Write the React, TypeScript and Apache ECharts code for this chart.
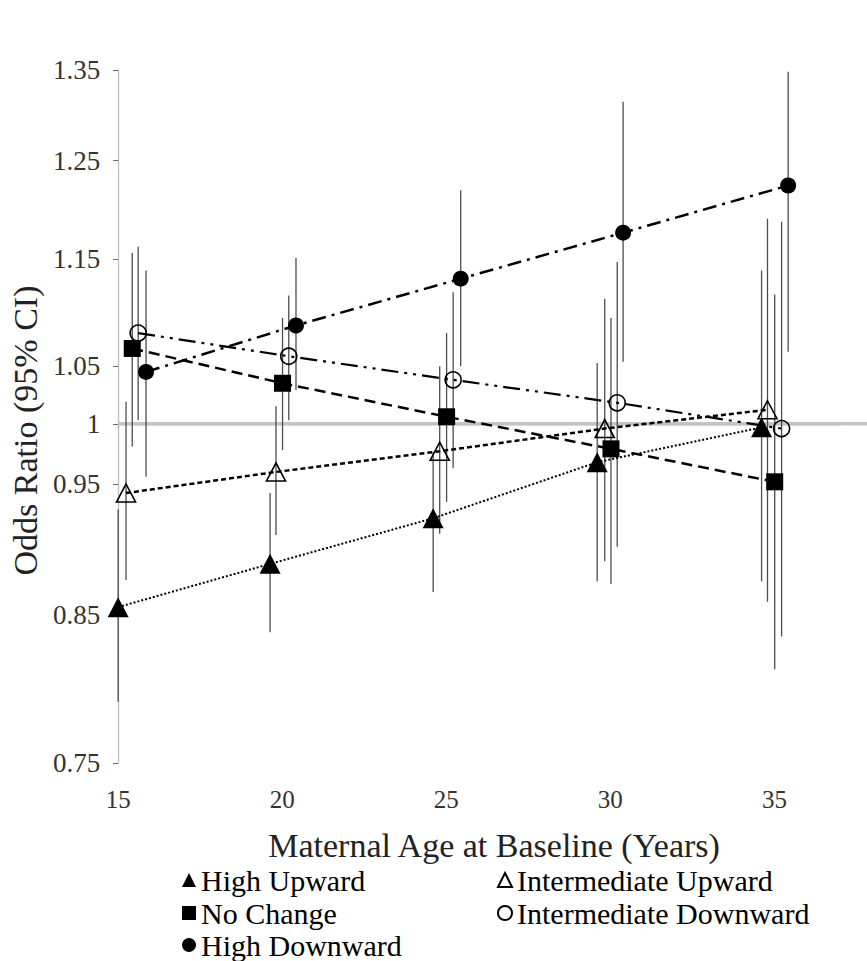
import React, { useEffect, useRef } from "react";
import * as echarts from "echarts";

// ---- data ----
const seriesNames = ["High Upward", "Intermediate Upward", "No Change", "Intermediate Downward", "High Downward"];

const highUpwardAge = [15.0, 19.63, 24.6, 29.6, 34.61];
const highUpwardOR = [0.856, 0.888, 0.923, 0.968, 0.997];
const highUpwardLower = [0.79, 0.838, 0.867, 0.875, 0.875];
const highUpwardUpper = [0.93, 0.943, 0.976, 1.053, 1.139];

const intUpwardAge = [15.24, 19.81, 24.8, 29.83, 34.79];
const intUpwardOR = [0.943, 0.96, 0.977, 0.996, 1.012];
const intUpwardLower = [0.876, 0.91, 0.911, 0.89, 0.86];
const intUpwardUpper = [1.019, 1.015, 1.05, 1.112, 1.19];

const noChangeAge = [15.43, 20.01, 25.01, 30.02, 35.01];
const noChangeOR = [1.066, 1.035, 1.006, 0.979, 0.952];
const noChangeLower = [0.981, 0.978, 0.936, 0.873, 0.812];
const noChangeUpper = [1.156, 1.094, 1.08, 1.094, 1.116];

const intDownwardAge = [15.61, 20.2, 25.21, 30.21, 35.22];
const intDownwardOR = [1.08, 1.059, 1.038, 1.018, 0.996];
const intDownwardLower = [1.003, 1.003, 0.963, 0.901, 0.835];
const intDownwardUpper = [1.162, 1.115, 1.118, 1.147, 1.187];

const highDownwardAge = [15.85, 20.42, 25.44, 30.39, 35.42];
const highDownwardOR = [1.045, 1.087, 1.131, 1.176, 1.224];
const highDownwardLower = [0.956, 1.029, 1.05, 1.054, 1.063];
const highDownwardUpper = [1.139, 1.151, 1.219, 1.314, 1.348];

const yTickLabels = ["0.75", "0.85", "0.95", "1", "1.05", "1.15", "1.25", "1.35"];
const xTickValues = [15, 20, 25, 30, 35];
const referenceOR = 1;

const FONT = "'Liberation Serif', 'Times New Roman', serif";

export default function App() {
  const ref = useRef<HTMLDivElement>(null);

  useEffect(() => {
    if (!ref.current) return;
    const chart = echarts.init(ref.current, undefined, { renderer: "svg" });

    const yTicks = yTickLabels.map((s) => Math.log(parseFloat(s)));
    const yMin = Math.log(0.75);
    const yMax = Math.log(1.35);

    const groups = [
      { name: seriesNames[0], age: highUpwardAge, or: highUpwardOR, lo: highUpwardLower, hi: highUpwardUpper, symbol: "triangle", size: [21, 20], filled: true, dash: [2, 2], width: 2 },
      { name: seriesNames[1], age: intUpwardAge, or: intUpwardOR, lo: intUpwardLower, hi: intUpwardUpper, symbol: "triangle", size: [19, 18], filled: false, dash: [5, 3], width: 2.5 },
      { name: seriesNames[2], age: noChangeAge, or: noChangeOR, lo: noChangeLower, hi: noChangeUpper, symbol: "rect", size: 17, filled: true, dash: [11, 6], width: 2.5 },
      { name: seriesNames[3], age: intDownwardAge, or: intDownwardOR, lo: intDownwardLower, hi: intDownwardUpper, symbol: "circle", size: 16, filled: false, dash: [17, 6, 3, 6, 3, 6], width: 2.2 },
      { name: seriesNames[4], age: highDownwardAge, or: highDownwardOR, lo: highDownwardLower, hi: highDownwardUpper, symbol: "circle", size: 16, filled: true, dash: [14, 6, 3, 6], width: 2.5 },
    ];

    const errData: number[][] = [];
    groups.forEach((g) => {
      g.age.forEach((a, i) => errData.push([a, Math.log(g.lo[i]), Math.log(g.hi[i])]));
    });

    const lineSeries = groups.map((g) => ({
      type: "line",
      name: g.name,
      xAxisIndex: 0,
      yAxisIndex: 0,
      data: g.age.map((a, i) => [a, Math.log(g.or[i])]),
      symbol: g.symbol,
      symbolSize: g.size,
      showSymbol: true,
      clip: false,
      z: 4,
      itemStyle: g.filled
        ? { color: "#000", borderWidth: 0 }
        : { color: "rgba(255,255,255,0)", borderColor: "#000", borderWidth: 1.6 },
      lineStyle: { color: "#000", width: g.width, type: g.dash },
      emphasis: { disabled: true },
    }));

    const labelFor = (v: number) => {
      let best = 0;
      let bd = Infinity;
      yTicks.forEach((t, i) => {
        const d = Math.abs(t - v);
        if (d < bd) {
          bd = d;
          best = i;
        }
      });
      return yTickLabels[best];
    };

    const legendText = { fontFamily: FONT, fontSize: 30, color: "#000", lineHeight: 32 };
    const legendRows = [
      { name: seriesNames[0], icon: "triangle", left: 182, top: 864 },
      { name: seriesNames[1], icon: "triangle", left: 497, top: 864 },
      { name: seriesNames[2], icon: "rect", left: 182, top: 897 },
      { name: seriesNames[3], icon: "circle", left: 497, top: 897 },
      { name: seriesNames[4], icon: "circle", left: 182, top: 929 },
    ];

    chart.setOption({
      animation: false,
      backgroundColor: "#fff",
      grid: [
        { left: 118, right: 27, top: 70, bottom: 198 },
        { left: 118, right: 0, top: 70, bottom: 198 },
      ],
      xAxis: [
        {
          type: "value",
          gridIndex: 0,
          min: 15,
          max: 37,
          axisLine: { show: true, lineStyle: { color: "#bdbdbd", width: 1.3 } },
          axisTick: { show: true, length: 5, lineStyle: { color: "#aaa" }, customValues: xTickValues },
          axisLabel: { customValues: xTickValues, fontFamily: FONT, fontSize: 25, color: "#333", margin: 24 },
          splitLine: { show: false },
          name: "Maternal Age at Baseline (Years)",
          nameLocation: "middle",
          nameGap: 65,
          nameTextStyle: { fontFamily: FONT, fontSize: 34, color: "#222", padding: [0, 0, 0, 30] },
        },
        { type: "value", gridIndex: 1, min: 0, max: 1, show: false },
      ],
      yAxis: [
        {
          type: "value",
          gridIndex: 0,
          min: yMin,
          max: yMax,
          axisLine: { show: true, lineStyle: { color: "#bdbdbd", width: 1.3 } },
          axisTick: { show: true, length: 5, lineStyle: { color: "#666" }, customValues: yTicks },
          axisLabel: { customValues: yTicks, formatter: (v: number) => labelFor(v), fontFamily: FONT, fontSize: 27, color: "#333", margin: 18 },
          splitLine: { show: false },
          name: "Odds Ratio (95% CI)",
          nameLocation: "middle",
          nameRotate: 90,
          nameGap: 70,
          nameTextStyle: { fontFamily: FONT, fontSize: 34, color: "#222", padding: [0, 28, 0, 0] },
        },
        { type: "value", gridIndex: 1, min: yMin, max: yMax, show: false },
      ],
      legend: legendRows.map((r) => ({
        orient: "horizontal",
        left: r.left,
        top: r.top,
        padding: 0,
        itemGap: 0,
        itemWidth: 14,
        itemHeight: 14,
        selectedMode: false,
        textStyle: legendText,
        data: [{ name: r.name, icon: r.icon }],
      })),
      series: [
        {
          type: "line",
          name: "reference",
          xAxisIndex: 1,
          yAxisIndex: 1,
          data: [
            [0, Math.log(referenceOR)],
            [1, Math.log(referenceOR)],
          ],
          symbol: "none",
          silent: true,
          z: 1,
          lineStyle: { color: "#c4c4c4", width: 3.5 },
        },
        {
          type: "custom",
          name: "ci",
          xAxisIndex: 0,
          yAxisIndex: 0,
          silent: true,
          z: 2,
          clip: false,
          encode: { x: 0, y: [1, 2] },
          data: errData,
          renderItem: (_p: any, api: any) => {
            const x = api.value(0);
            const a = api.coord([x, api.value(1)]);
            const b = api.coord([x, api.value(2)]);
            return {
              type: "line",
              shape: { x1: a[0], y1: a[1], x2: b[0], y2: b[1] },
              style: { stroke: "#4d4d4d", lineWidth: 1.3 },
            };
          },
        },
        ...lineSeries,
      ],
    });

    return () => chart.dispose();
  }, []);

  return (
    <div
      ref={ref}
      style={{ position: "fixed", left: 0, top: 0, width: 867, height: 961, background: "#fff" }}
    />
  );
}
